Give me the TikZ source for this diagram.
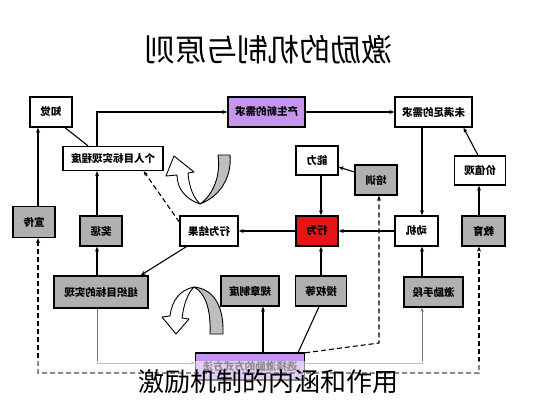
\documentclass[tikz,border=0pt]{standalone}
\usepackage{fontspec}
\usepackage{graphicx}
\newfontfamily\cjk{Noto Sans CJK SC}
\usetikzlibrary{arrows.meta}
\definecolor{boxgray}{RGB}{176,176,176}
\definecolor{boxpurple}{RGB}{196,148,238}
\definecolor{boxred}{RGB}{230,20,22}
\definecolor{loopgray}{RGB}{190,190,190}
\newcommand{\mirr}[1]{\scalebox{-1}[1]{#1}}
\begin{document}
\begin{tikzpicture}[x=1pt,y=-1pt,
  box/.style={draw=black, line width=1.4pt, fill=white, inner sep=0pt,
    font=\cjk\bfseries\fontsize{10.5}{12}\selectfont},
  gbox/.style={box, fill=boxgray},
  pbox/.style={box, fill=boxpurple},
  rbox/.style={box, fill=boxred},
  conn/.style={line width=1.1pt, draw=black},
  arr/.style={conn, -{Stealth[length=5pt,width=4pt]}},
  darr/.style={conn, dashed, dash pattern=on 5pt off 3pt, -{Stealth[length=5pt,width=4pt]}},
  garr/.style={line width=0.8pt, draw=black!55, -{Stealth[length=4pt,width=3.5pt]}},
  loopline/.style={line width=0.9pt, draw=black, line join=round}
]
\path[use as bounding box, fill=white] (0,0) rectangle (533,400);

% title (mirrored)
\node (title) at (268,50) {\cjk\fontsize{31}{34}\selectfont\mirr{激励的机制与原则}};

% helper coordinates
\coordinate (x38) at (38,0);
\coordinate (x97) at (97,0);
\coordinate (x263) at (263,0);
\coordinate (x321) at (321,0);
\coordinate (x379) at (379,0);
\coordinate (x422) at (422,0);
\coordinate (x479) at (479,0);
\coordinate (y363) at (0,363);
\coordinate (y373) at (0,373);
\coordinate (bend) at (379,343);

% nodes
\node[box, minimum width=42pt, minimum height=30pt] (zhijue) at (51,112) {\mirr{知觉}};
\node[pbox, minimum width=77pt, minimum height=30pt] (xinxuqiu) at (266.5,112) {\mirr{产生新的需求}};
\node[box, minimum width=77pt, minimum height=30pt] (weimanzu) at (433.5,112) {\mirr{未满足的需求}};
\node[box, minimum width=100pt, minimum height=24pt] (geren) at (113,158.5) {\mirr{个人目标实现程度}};
\node[box, minimum width=42pt, minimum height=29pt] (nengli) at (317,160.5) {\mirr{能力}};
\node[gbox, minimum width=42pt, minimum height=30pt] (peixun) at (376,180) {\mirr{培训}};
\node[box, minimum width=51pt, minimum height=29pt] (jiazhi) at (480,170.5) {\mirr{价值观}};
\node[gbox, minimum width=42pt, minimum height=31pt] (xuanchuan) at (34,222) {\mirr{宣传}};
\node[gbox, minimum width=42pt, minimum height=30pt] (jiangcheng) at (101,231) {\mirr{奖惩}};
\node[box, minimum width=58pt, minimum height=30pt] (jieguo) at (209,231) {\mirr{行为结果}};
\node[rbox, minimum width=42pt, minimum height=30pt] (xingwei) at (317,231) {\mirr{行为}};
\node[box, minimum width=43pt, minimum height=30pt] (dongji) at (416.5,231) {\mirr{动机}};
\node[gbox, minimum width=43pt, minimum height=30pt] (jiaoyu) at (483.5,231) {\mirr{教育}};
\node[gbox, minimum width=94pt, minimum height=32pt] (zuzhi) at (101,292) {\mirr{组织目标的实现}};
\node[gbox, minimum width=58pt, minimum height=30pt] (guizhang) at (250,291) {\mirr{规章制度}};
\node[gbox, minimum width=51pt, minimum height=30pt] (shouquan) at (321,291) {\mirr{授权等}};
\node[gbox, minimum width=59pt, minimum height=30pt] (jili) at (433.5,292) {\mirr{激励手段}};
\node[pbox, minimum width=109pt, minimum height=27pt] (fangshi) at (250,366.5) {\mirr{选择激励的方式方法}};

% connectors
\draw[arr] (geren.north -| x97) |- (xinxuqiu.west);
\draw[arr] (xinxuqiu.east) -- (weimanzu.west);
\draw[arr] (weimanzu.south -| x422) -- (dongji.north -| x422);
\draw[arr] ([xshift=-2pt]jiazhi.north) -- ([xshift=30pt]weimanzu.south);
\draw[arr] (jiaoyu.north -| x479) -- (jiazhi.south -| x479);
\draw[arr] (dongji.west) -- (xingwei.east);
\draw[arr] (xingwei.west) -- (jieguo.east);
\draw[arr] (nengli.south -| x321) -- (xingwei.north -| x321);
\draw[arr] ([yshift=8pt]peixun.west) -- ([yshift=-6.5pt]nengli.east);
\draw[arr] (shouquan.north -| x321) -- (xingwei.south -| x321);
\draw[arr] (jili.north -| x422) -- (dongji.south -| x422);
\draw[arr] ([xshift=7pt]jieguo.south west) -- ([xshift=-8pt]zuzhi.north east);
\draw[darr] ([yshift=9pt]jieguo.west) -- ([xshift=-20pt]geren.south east);
\draw[arr] (jiangcheng.north -| x97) -- (geren.south -| x97);
\draw[arr] (zuzhi.north -| x97) -- (jiangcheng.south -| x97);
\draw[arr] (xuanchuan.north -| x38) -- (zhijue.south -| x38);
\draw[conn] ([xshift=14pt]zhijue.south) -- ([xshift=-25pt]geren.north);
\draw[arr] (fangshi.north -| x263) -- (guizhang.south -| x263);
\draw[conn] ([xshift=-7pt]fangshi.north east) -- ([xshift=-2pt]shouquan.south);
\draw[darr] ([yshift=-0.5pt]fangshi.north east) -- (bend) -- (peixun.south -| x379);
\draw[garr] (zuzhi.south -| x97) |- (fangshi.west |- y363);
\draw[garr] (fangshi.east |- y363) -| (jili.south -| x422);
\draw[conn, dashed, dash pattern=on 5pt off 3pt, {Stealth[length=5pt,width=4pt]}-{Stealth[length=5pt,width=4pt]}]
  (xuanchuan.south -| x38) -- (x38 |- y373) -- (x479 |- y373) -- (jiaoyu.south -| x479);

% upper U-turn arrow
\draw[loopline, fill=loopgray] (218,155) .. controls (221,176) and (213,195) .. (200,204)
  .. controls (221,196) and (232,176) .. (230,155) -- cycle;
\draw[loopline, fill=white] (200,204) .. controls (185,199) and (177,188) .. (177,175)
  -- (166,176) -- (174,156) -- (194,172) -- (188,173)
  .. controls (189,188) and (194,198) .. (200,204) -- cycle;

% lower U-turn arrow
\draw[loopline, fill=loopgray] (210,334) .. controls (211,308) and (205,293) .. (194,287)
  .. controls (213,289) and (224,305) .. (223,334) -- cycle;
\draw[loopline, fill=white] (194,287) .. controls (180,290) and (172,300) .. (170,316)
  -- (162,317) -- (176,334) -- (189,319) -- (182,318)
  .. controls (184,303) and (188,293) .. (194,287) -- cycle;

% faded caption band
\fill[white, opacity=0.55] (0,361) rectangle (533,400);
\node (caption) at (268,382) {\cjk\fontsize{26}{28}\selectfont 激励机制的内涵和作用};
\end{tikzpicture}
\end{document}
